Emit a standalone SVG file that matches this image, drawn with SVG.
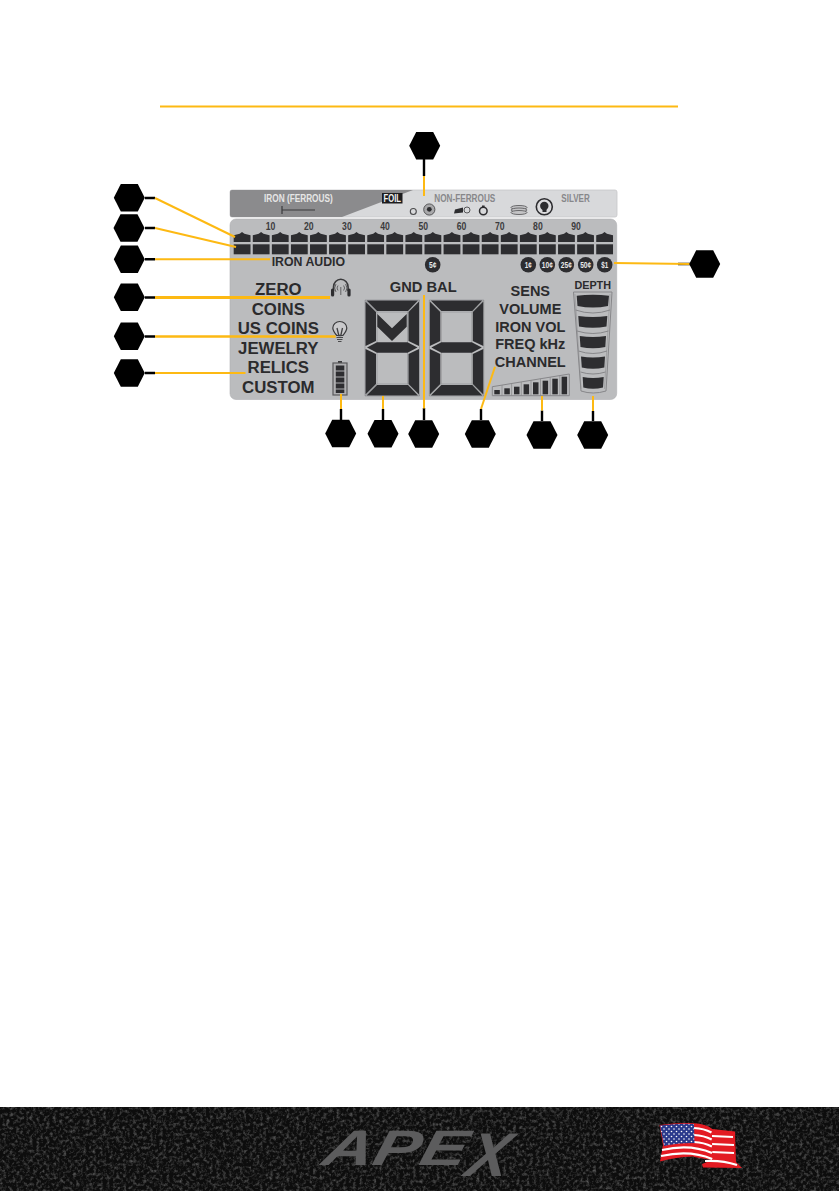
<svg xmlns="http://www.w3.org/2000/svg" width="839" height="1191" viewBox="0 0 839 1191">
<style>
text{font-family:"Liberation Sans",Arial,sans-serif}
.m{font-weight:700;fill:#2b2b2d;text-anchor:middle}
.l{font-size:16.8px}
.r{font-size:14.5px}
.n{font-weight:700;font-size:11px;fill:#3b3b3d}
.s{font-weight:700;font-size:11.5px}
.c{font-weight:700;font-size:8.5px;fill:#e8e8e8}
.d{fill:#2d2d30}
.o{fill:none;stroke:#87878a;stroke-width:1}
.y{stroke:#fdb913;fill:none;stroke-width:2}
.k{stroke:#000;fill:none;stroke-width:2.4}
.ic{fill:none;stroke:#4a4a4c;stroke-width:1.1}
.hex{fill:#000}
</style>
<defs>
<polygon id="hex" points="-15.5,0 -8.5,-13.7 8.5,-13.7 15.5,0 8.5,13.7 -8.5,13.7"/>
<path id="t" d="M0 10V3.2L6 1.8 8.3 0 10.7 1.8 16.8 3.2V10Z"/>
<rect id="b" width="16.8" height="10"/>
<g id="digit">
<path class="o" d="M0 0H54.5V96H0ZM0 0L12 12M54.5 0L42.5 12M0 96L12 84M54.5 96L42.5 84M12 12H42.5V84H12Z" stroke-opacity=".55"/>
<polygon class="d" points="1.5,0.5 53,0.5 43,11 12,11"/>
<polygon class="d" points="0.5,1.5 11,12 11,41 0.5,46"/>
<polygon class="d" points="54,1.5 43.5,12 43.5,41 54,46"/>
<polygon class="d" points="2,47.5 12,42.3 42.5,42.3 52.5,47.5 42.5,52.7 12,52.7"/>
<polygon class="d" points="0.5,49 11,54 11,84 0.5,94.5"/>
<polygon class="d" points="54,49 43.5,54 43.5,84 54,94.5"/>
<polygon class="d" points="1.5,95.5 12,85 43,85 53,95.5"/>
</g>
<pattern id="stars" width="5" height="5" patternUnits="userSpaceOnUse"><rect width="5" height="5" fill="#2b3a8c"/><circle cx="1.5" cy="1.5" r=".8" fill="#fff"/><circle cx="4" cy="4" r=".8" fill="#fff"/></pattern>
<filter id="noise" x="0" y="0" width="1" height="1"><feTurbulence type="fractalNoise" baseFrequency=".3" numOctaves="4" seed="4"/><feColorMatrix values="0 0 0 0 .13 0 0 0 0 .13 0 0 0 0 .13 1.8 0 0 0 -.8"/></filter>
</defs>
<rect width="839" height="1191" fill="#fff"/>
<rect x="160" y="105.5" width="518" height="2" fill="#fdb913"/>

<g id="strip">
<rect x="230" y="190" width="387" height="27" rx="2" fill="#d8d9db" stroke="#c6c7c9" stroke-width=".8"/>
<path d="M232 190H413L342 217H232a2 2 0 0 1-2-2V192a2 2 0 0 1 2-2Z" fill="#8b8b8d"/>
<text class="s" x="264" y="202.3" fill="#e6e6e6" textLength="68.7" lengthAdjust="spacingAndGlyphs">IRON (FERROUS)</text>
<rect x="382" y="193" width="20.5" height="10.5" fill="#1d1d1f"/>
<text class="s" x="383.5" y="202.3" fill="#f2f2f2" textLength="17.5" lengthAdjust="spacingAndGlyphs">FOIL</text>
<text class="s" x="434.3" y="202.3" fill="#87878a" textLength="61" lengthAdjust="spacingAndGlyphs">NON-FERROUS</text>
<text class="s" x="561.3" y="202.3" fill="#87878a" textLength="28.5" lengthAdjust="spacingAndGlyphs">SILVER</text>
<path d="M282 206V214M282 210H315" stroke="#3a3a3c" stroke-width="1.2" fill="none"/>
<circle class="ic" cx="413.3" cy="211.5" r="3"/>
<circle cx="429.3" cy="209.5" r="5.6" fill="#a8a8aa" stroke="#4a4a4c" stroke-width=".9"/>
<circle cx="429.3" cy="209.3" r="2.4" fill="#2d2d30"/>
<path d="M454 213.5L455 209.5L463 207.5V212.5Z" fill="#2d2d30"/>
<circle cx="467" cy="210" r="3" fill="none" stroke="#4a4a4c" stroke-width=".9"/>
<circle cx="483.3" cy="211" r="3.8" fill="none" stroke="#2d2d30" stroke-width="1.5"/>
<rect x="482" y="205.5" width="2.6" height="2" fill="#2d2d30"/>
<ellipse cx="519" cy="207.5" rx="8" ry="2" fill="#c4c4c6" stroke="#6a6a6c"/>
<ellipse cx="519" cy="210" rx="8" ry="2" fill="#c4c4c6" stroke="#6a6a6c"/>
<ellipse cx="519" cy="212.5" rx="8" ry="2" fill="#c4c4c6" stroke="#6a6a6c"/>
<circle cx="544.3" cy="206.8" r="8" fill="#dcdcde" stroke="#2d2d30" stroke-width="1.6"/>
<circle cx="544.3" cy="206" r="4.2" fill="#2d2d30"/>
<rect x="542.5" y="209" width="4" height="3" fill="#2d2d30"/>
</g>

<g id="panel">
<rect x="230" y="219" width="386.7" height="180.5" rx="6" fill="#bbbcbe" stroke="#aeafb1" stroke-width=".6"/>
<text class="n" x="265.7" y="230" textLength="9.6" lengthAdjust="spacingAndGlyphs">10</text><text class="n" x="303.9" y="230" textLength="9.6" lengthAdjust="spacingAndGlyphs">20</text><text class="n" x="342.1" y="230" textLength="9.6" lengthAdjust="spacingAndGlyphs">30</text><text class="n" x="380.3" y="230" textLength="9.6" lengthAdjust="spacingAndGlyphs">40</text><text class="n" x="418.5" y="230" textLength="9.6" lengthAdjust="spacingAndGlyphs">50</text><text class="n" x="456.7" y="230" textLength="9.6" lengthAdjust="spacingAndGlyphs">60</text><text class="n" x="494.9" y="230" textLength="9.6" lengthAdjust="spacingAndGlyphs">70</text><text class="n" x="533.1" y="230" textLength="9.6" lengthAdjust="spacingAndGlyphs">80</text><text class="n" x="571.3" y="230" textLength="9.6" lengthAdjust="spacingAndGlyphs">90</text>
<g class="d" transform="translate(233.7,232)">
<use href="#t"/><use href="#t" x="19.08"/><use href="#t" x="38.16"/><use href="#t" x="57.24"/><use href="#t" x="76.32"/><use href="#t" x="95.4"/><use href="#t" x="114.48"/><use href="#t" x="133.56"/><use href="#t" x="152.64"/><use href="#t" x="171.72"/><use href="#t" x="190.8"/><use href="#t" x="209.88"/><use href="#t" x="228.96"/><use href="#t" x="248.04"/><use href="#t" x="267.12"/><use href="#t" x="286.2"/><use href="#t" x="305.28"/><use href="#t" x="324.36"/><use href="#t" x="343.44"/><use href="#t" x="362.52"/>
</g>
<g class="d" transform="translate(233.7,244.3)">
<use href="#b"/><use href="#b" x="19.08"/><use href="#b" x="38.16"/><use href="#b" x="57.24"/><use href="#b" x="76.32"/><use href="#b" x="95.4"/><use href="#b" x="114.48"/><use href="#b" x="133.56"/><use href="#b" x="152.64"/><use href="#b" x="171.72"/><use href="#b" x="190.8"/><use href="#b" x="209.88"/><use href="#b" x="228.96"/><use href="#b" x="248.04"/><use href="#b" x="267.12"/><use href="#b" x="286.2"/><use href="#b" x="305.28"/><use href="#b" x="324.36"/><use href="#b" x="343.44"/><use href="#b" x="362.52"/>
</g>
<text x="271.7" y="265.7" font-size="12.3" font-weight="700" fill="#2b2b2d">IRON AUDIO</text>
<g class="d"><circle cx="432.7" cy="264.7" r="7.8"/><circle cx="528.3" cy="264.7" r="7.8"/><circle cx="547.3" cy="264.7" r="7.8"/><circle cx="566.3" cy="264.7" r="7.8"/><circle cx="585.7" cy="264.7" r="7.8"/><circle cx="604.7" cy="264.7" r="7.8"/></g>
<text class="c" x="429" y="268" textLength="7.4" lengthAdjust="spacingAndGlyphs">5¢</text><text class="c" x="524.8" y="268" textLength="7" lengthAdjust="spacingAndGlyphs">1¢</text><text class="c" x="541.8" y="268" textLength="11" lengthAdjust="spacingAndGlyphs">10¢</text><text class="c" x="560.8" y="268" textLength="11" lengthAdjust="spacingAndGlyphs">25¢</text><text class="c" x="580.2" y="268" textLength="11" lengthAdjust="spacingAndGlyphs">50¢</text><text class="c" x="601.2" y="268" textLength="7" lengthAdjust="spacingAndGlyphs">$1</text>

<text class="m l" x="278.3" y="295.3">ZERO</text>
<text class="m l" x="278.3" y="314.7">COINS</text>
<text class="m l" x="278.3" y="334">US COINS</text>
<text class="m l" x="278.3" y="354">JEWELRY</text>
<text class="m l" x="278.3" y="373.3">RELICS</text>
<text class="m l" x="278.3" y="393.3">CUSTOM</text>
<text class="m" x="423.2" y="292.3" font-size="14.7">GND BAL</text>
<text class="m r" x="530.3" y="296">SENS</text>
<text class="m r" x="530.3" y="313.7">VOLUME</text>
<text class="m r" x="530.3" y="331.7">IRON VOL</text>
<text class="m r" x="530.3" y="349.3">FREQ kHz</text>
<text class="m r" x="530.3" y="367">CHANNEL</text>
<text class="m" x="592.7" y="289" font-size="10.8">DEPTH</text>

<g id="headphones">
<path d="M333.5 291V287a7.3 7.8 0 0 1 14.6 0V291" fill="none" stroke="#3a3a3c" stroke-width="1.6"/>
<rect x="331" y="288.5" width="3.2" height="8" rx="1.5" fill="#2d2d30"/>
<rect x="347.4" y="288.5" width="3.2" height="8" rx="1.5" fill="#2d2d30"/>
<path d="M340.8 287V295M338 285.5a4 4 0 0 0 0 5M343.6 285.5a4 4 0 0 1 0 5M336 284a7 7 0 0 0 0 8M345.6 284a7 7 0 0 1 0 8" fill="none" stroke="#4a4a4c" stroke-width=".8"/>
</g>
<g id="bulb">
<path d="M336.8 335.5c-2.5-3-4-5-4-7.5a7 6.5 0 0 1 14 0c0 2.5-1.5 4.5-4 7.5Z" fill="#c9c9cb" stroke="#3a3a3c" stroke-width="1.2"/>
<path d="M337 328L338.8 335.5H340.8L342.5 328" fill="none" stroke="#3f3f41" stroke-width="1.3"/>
<path d="M336.5 337.5H343M337 339.5H342.5M338 341.5H341.5" stroke="#4a4a4c" stroke-width="1.2"/>
</g>
<g id="battery">
<rect x="338" y="361" width="4" height="2" fill="#3a3a3c"/>
<rect x="333" y="363" width="14" height="32" fill="#b0b0b2" stroke="#5a5a5c" stroke-width="1.2"/>
<g class="d"><rect x="335.8" y="365.5" width="8.5" height="5"/><rect x="335.8" y="371.5" width="8.5" height="5"/><rect x="335.8" y="377.5" width="8.5" height="5"/><rect x="335.8" y="383.5" width="8.5" height="5"/><rect x="335.8" y="389.5" width="8.5" height="3.5"/></g>
</g>
<use href="#digit" x="365" y="300"/>
<use href="#digit" x="429.3" y="300"/>
<polygon class="d" points="377.3,314 392,328.3 406.7,314 406.7,326.7 392,341 377.3,326.7"/>
<g id="level">
<polygon class="o" points="492.3,386.7 569.3,374 569.3,395.7 492.3,395.7"/>
<path class="o" stroke-opacity=".7" d="M502 385V395.7M511.6 383.5V395.7M521.3 382V395.7M531 380.3V395.7M540.5 378.7V395.7M550.2 377V395.7M559.8 375.5V395.7"/>
<g class="d"><rect x="494.3" y="390" width="5.5" height="4.3"/><rect x="504.3" y="388.3" width="5.5" height="6"/><rect x="514" y="386.7" width="5.5" height="7.6"/><rect x="523.6" y="384.3" width="5.5" height="10"/><rect x="533" y="382.3" width="5.5" height="12"/><rect x="542.6" y="380.7" width="5.5" height="13.6"/><rect x="552.3" y="378.7" width="5.5" height="15.6"/><rect x="561.6" y="376.7" width="5.5" height="17.6"/></g>
</g>
<g id="depth">
<path class="o" d="M573.5 292H612L606 391Q593 395 581 391Z"/>
<path class="o" d="M575.5 310Q593 316 610 310M577 331Q593 336 608.5 331M578.5 351Q593 356 607 351M580.5 372Q593 376 605.5 372"/>
<path class="o" d="M575 294L581 389M610 294L604.5 389" stroke-opacity=".5"/>
<path class="d" d="M576.7 295.7Q593 294 609 295.7L608 306Q593 309 577.5 306Z"/>
<path class="d" d="M578.3 316Q593 318 607.3 316L606.5 326.5Q593 329 579 326.5Z"/>
<path class="d" d="M579.7 336Q593 338 606 336L605.3 347Q593 349.5 580.5 347Z"/>
<path class="d" d="M581 356.5Q593 358.5 605 356.5L604.3 367.5Q593 370 581.8 367.5Z"/>
<path class="d" d="M582.7 377Q593 379 603.7 377L603 387.5Q593 390 583.3 387.5Z"/>
</g>
</g>

<g id="connectors">
<path class="k" d="M145 198H155M145 228H155M145 259.3H155M145 297.5H155M145 336.5H155M145 373H155M678 264H690M424 159V176M341 409V420M383 409V420M424 408V420M481 409V420M542 410.5V421M593 411V421"/>
<path class="y" d="M155 198L235 237"/>
<path class="y" d="M155 228L236 247"/>
<path class="y" d="M155 259.3H270"/>
<path class="y" style="stroke-width:3" d="M155 297.5H330"/>
<path class="y" style="stroke-width:2.6" d="M155 336.5H335.7"/>
<path class="y" d="M155 373H245.5"/>
<path class="y" d="M690 264L614 263"/>
<path class="y" d="M424 176V196"/>
<path class="y" d="M341 394V409"/>
<path class="y" d="M383 396V409"/>
<path class="y" d="M424 295V408.5"/>
<path class="y" d="M495 366.7L481 409"/>
<path class="y" d="M542 396V410.5"/>
<path class="y" d="M593 396V411"/>
</g>

<g id="n1" class="hex"><use href="#hex" x="129.3" y="197.7"/></g>
<g id="n2" class="hex"><use href="#hex" x="129" y="228"/></g>
<g id="n3" class="hex"><use href="#hex" x="129.3" y="259.3"/></g>
<g id="n4" class="hex"><use href="#hex" x="129.3" y="297.3"/></g>
<g id="n5" class="hex"><use href="#hex" x="129.3" y="336.3"/></g>
<g id="n6" class="hex"><use href="#hex" x="129.3" y="373"/></g>
<g id="n7" class="hex"><use href="#hex" x="424.7" y="145.7"/></g>
<g id="n8" class="hex"><use href="#hex" x="704.7" y="264"/></g>
<g id="n9" class="hex"><use href="#hex" x="340.7" y="433.5"/></g>
<g id="n10" class="hex"><use href="#hex" x="383" y="433.7"/></g>
<g id="n11" class="hex"><use href="#hex" x="423.7" y="434"/></g>
<g id="n12" class="hex"><use href="#hex" x="480.3" y="434"/></g>
<g id="n13" class="hex"><use href="#hex" x="542" y="435"/></g>
<g id="n14" class="hex"><use href="#hex" x="592.7" y="435"/></g>

<g id="footer">
<rect x="0" y="1107" width="839" height="84" fill="#0d0d0d"/>
<rect x="0" y="1107" width="839" height="84" filter="url(#noise)"/>
<text transform="translate(320,1165) skewX(-14)" font-size="50" font-weight="700" font-style="italic" fill="#5c5c5d"><tspan textLength="144" lengthAdjust="spacingAndGlyphs">APE</tspan><tspan x="146" y="11" font-size="62" textLength="42" lengthAdjust="spacingAndGlyphs">X</tspan></text>
<g id="flag">
<path d="M694 1125L712 1129L735 1131.5L736 1162L742 1168L703 1167.5L702 1164L712 1160L694 1157Z" fill="#e31b23"/>
<path d="M712 1136L733 1137M712 1144L734 1145M712 1152L734 1153M705 1161Q722 1160 737 1165" stroke="#fff" stroke-width="2.2" fill="none"/>
<path d="M659.5 1125Q678 1122.5 694 1123.3Q706 1124 711.7 1128.5L712.5 1160Q703 1156 693 1156.5Q676 1157 660 1161.5L663 1145Z" fill="#e31b23"/>
<path d="M694 1128Q704 1128.5 711.5 1132.5M694 1135Q704 1135.5 711.7 1139.5M694 1142Q704 1142.5 711.9 1146.5M662 1150Q690 1143.5 712 1153M661 1156Q690 1149.5 712.2 1159" stroke="#fff" stroke-width="2.2" fill="none"/>
<path d="M660 1125.5Q678 1123 694 1124L694.5 1143Q676 1143 664 1146Z" fill="url(#stars)"/>
</g>
</g>
</svg>
